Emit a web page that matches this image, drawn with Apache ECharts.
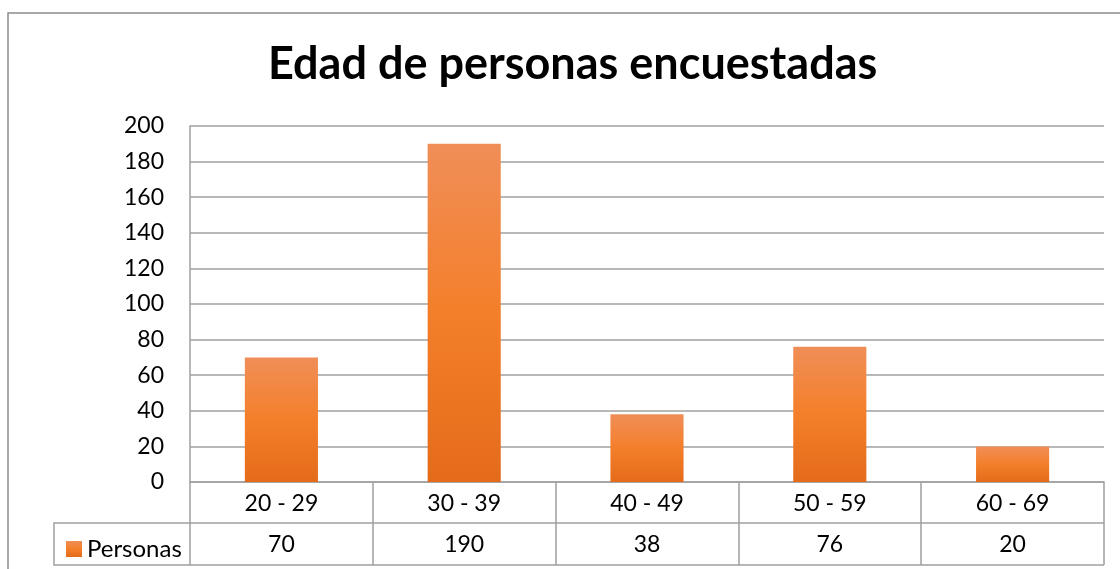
<!DOCTYPE html>
<html>
<head>
<meta charset="utf-8">
<script src="https://cdn.jsdelivr.net/npm/echarts@6/dist/echarts.min.js"></script>
<style>
  html, body { margin: 0; padding: 0; background: #fff; }
  #chart { width: 1120px; height: 569px; }
</style>
</head>
<body>
<div id="chart"></div>
<script>
var categories = ['20 - 29', '30 - 39', '40 - 49', '50 - 59', '60 - 69'];
var personas = [70, 190, 38, 76, 20];
var seriesName = 'Personas';

var chart = echarts.init(document.getElementById('chart'));
var font = 'Lato';
var lineColor = '#a0a0a0';

var option = {
  backgroundColor: '#fff',
  animation: false,
  title: {
    text: 'Edad de personas encuestadas',
    left: 263,
    top: 37,
    textStyle: { fontFamily: font, fontSize: 45, fontWeight: 'bold', color: '#000' }
  },
  legend: {
    data: [seriesName],
    left: 61,
    top: 532,
    icon: 'rect',
    itemWidth: 16,
    itemHeight: 16,
    itemGap: 6,
    textStyle: { fontFamily: font, fontSize: 24, color: '#000' }
  },
  grid: { left: 190, right: 16, top: 126, bottom: 87 },
  xAxis: [
    {
      type: 'category',
      data: categories,
      position: 'bottom',
      axisLine: { show: true, lineStyle: { color: lineColor, width: 1.5 } },
      axisTick: { show: true, length: 41, lineStyle: { color: lineColor, width: 1.5 } },
      axisLabel: { fontFamily: font, fontSize: 23, color: '#000', margin: 10 }
    },
    {
      type: 'category',
      data: personas.map(String),
      position: 'bottom',
      offset: 41,
      axisLine: { show: true, lineStyle: { color: lineColor, width: 1.5 } },
      axisTick: { show: true, length: 42, lineStyle: { color: lineColor, width: 1.5 } },
      axisLabel: { fontFamily: font, fontSize: 23, color: '#000', margin: 10 }
    }
  ],
  yAxis: {
    type: 'value',
    min: 0,
    max: 200,
    interval: 20,
    axisLine: { show: true, lineStyle: { color: lineColor, width: 1.5 } },
    axisTick: { show: false },
    splitLine: { lineStyle: { color: lineColor, width: 1.5 } },
    axisLabel: { fontFamily: font, fontSize: 23, color: '#000', margin: 26 }
  },
  series: [
    {
      name: seriesName,
      type: 'bar',
      data: personas,
      barWidth: '40%',
      itemStyle: {
        color: new echarts.graphic.LinearGradient(0, 0, 0, 1, [
          { offset: 0, color: '#f08e58' },
          { offset: 0.5, color: '#f47f2a' },
          { offset: 1, color: '#e46b1a' }
        ])
      }
    }
  ],
  graphic: [
    {
      type: 'rect',
      silent: true,
      z: -1,
      shape: { x: 8, y: 13, width: 1130, height: 600 },
      style: { fill: 'none', stroke: '#8c8c8c', lineWidth: 1.5 }
    },
    {
      type: 'polyline',
      silent: true,
      shape: { points: [[190, 523], [54, 523], [54, 565], [1104, 565]] },
      style: { fill: 'none', stroke: lineColor, lineWidth: 1.5 }
    }
  ]
};

chart.setOption(option);
</script>
</body>
</html>
